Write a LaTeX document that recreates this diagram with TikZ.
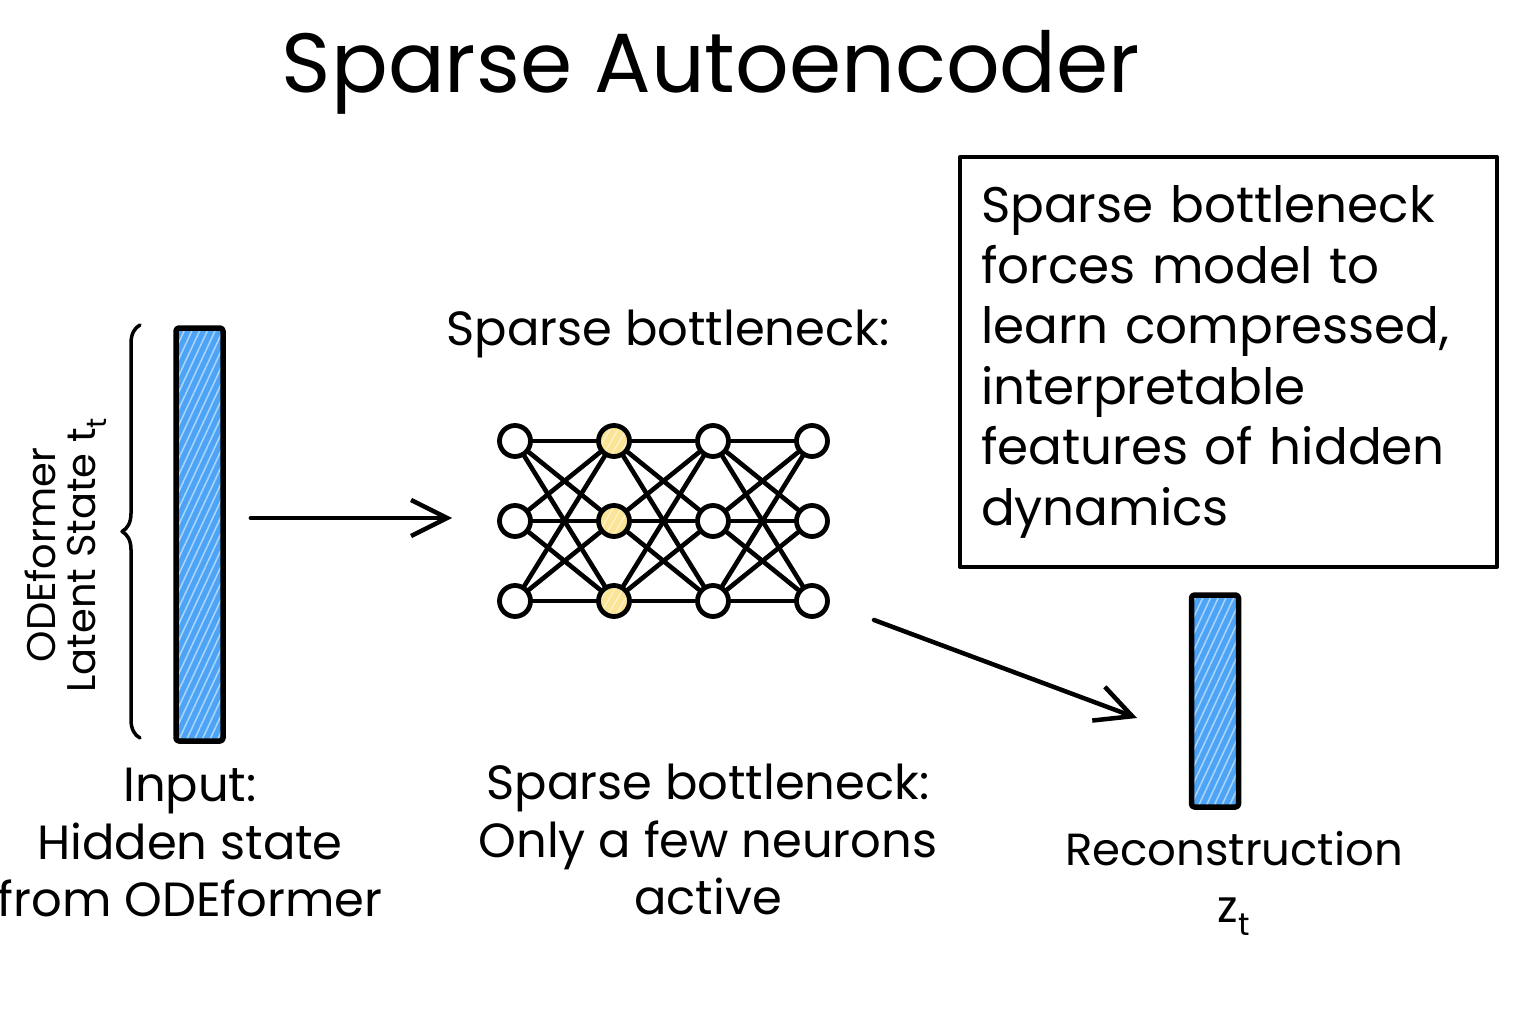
\documentclass[tikz,border=0pt]{standalone}
\usepackage{fontspec}
\setmainfont{Poppins}
\usetikzlibrary{arrows.meta,patterns.meta,decorations.pathreplacing,calc}
\definecolor{barblue}{RGB}{77,163,245}
\definecolor{hatchblue}{RGB}{168,211,250}
\definecolor{neuronyellow}{RGB}{250,228,150}
\definecolor{hatchyellow}{RGB}{254,243,205}
\begin{document}
\begin{tikzpicture}[x=1pt,y=-1pt,line cap=round,line join=round,
  bar/.style={draw,line width=5.5pt,rounded corners=3pt,inner sep=0pt,
    preaction={fill=barblue},pattern={Lines[angle=65,distance=7pt,line width=1.6pt]},pattern color=hatchblue},
  neuron/.style={circle,draw,line width=4.8pt,fill=white,minimum size=31pt,inner sep=0pt},
  activeneuron/.style={neuron,preaction={fill=neuronyellow},pattern={Lines[angle=60,distance=7pt,line width=1.2pt]},pattern color=hatchyellow},
  edge/.style={line width=4.6pt},
  arrowline/.style={line width=4.5pt,-{Straight Barb[length=36pt,width=36pt,line width=4.5pt]}},
  lbl/.style={inner sep=0pt,font=\fontsize{48}{57.5}\selectfont,align=center},
  note/.style={draw,line width=4pt,anchor=north west,text width=495pt,align=left,inner xsep=21pt,inner ysep=0pt,minimum height=410pt,font=\fontsize{50}{60.5}\selectfont}
]
\useasboundingbox (0,0) rectangle (1536,1024);
\fill[white] (0,0) rectangle (1536,1024);

% title
\node[inner sep=0pt,anchor=north,font=\fontsize{84}{100}\selectfont] (title) at (711,30) {Sparse Autoencoder};

% input bar, brace and rotated label
\node[bar,minimum width=47pt,minimum height=413pt] (inbar) at (199.5,534.5) {};
\coordinate (brtop) at (140,325);
\coordinate (brbot) at (140,738);
\draw[line width=3.5pt,decorate,decoration={brace,amplitude=18pt}] (brbot) -- (brtop);
\node[rotate=90,align=center,inner sep=0pt,font=\fontsize{40}{40}\selectfont] (latent) at (66,555) {ODEformer\\Latent State t\textsubscript{t}};

% middle label
\node[lbl,anchor=north] (sbtop) at (668,310) {Sparse bottleneck:};

% network
\foreach \c/\x in {1/515,2/614,3/713,4/812}{
  \foreach \r/\y in {1/441,2/521,3/601}{
    \ifnum\c=2
      \node[activeneuron] (n\c\r) at (\x,\y) {};
    \else
      \node[neuron] (n\c\r) at (\x,\y) {};
    \fi
  }
}
\foreach \c [evaluate=\c as \d using int(\c+1)] in {1,2,3}{
  \foreach \r in {1,2,3}{
    \foreach \s in {1,2,3}{
      \draw[edge] (n\c\r) -- (n\d\s);
    }
  }
}

% arrows
\draw[arrowline] ($(inbar.east)+(27,-16.5)$) -- ($(n12.west)+(-45,-3)$);
\coordinate (a2s) at (874,620);
\coordinate (a2e) at (1137,718);
\draw[arrowline] (a2s) -- (a2e);

% output bar
\node[bar,minimum width=47pt,minimum height=212pt] (outbar) at (1215,701) {};

% note box
\node[note] (notebox) at (958,155) {Sparse bottleneck\\forces model to\\learn compressed,\\interpretable\\features of hidden\\dynamics};

% bottom labels
\node[lbl,anchor=north] (inlbl) at (190,768) {Input:\\Hidden state\\from ODEformer};
\node[lbl,anchor=north] (midlbl) at (708,764) {Sparse bottleneck:\\Only a few neurons\\active};
\node[lbl,anchor=north,font=\fontsize{45}{57.5}\selectfont] (outlbl) at (1234,831) {Reconstruction\\z\textsubscript{t}};
\end{tikzpicture}
\end{document}
